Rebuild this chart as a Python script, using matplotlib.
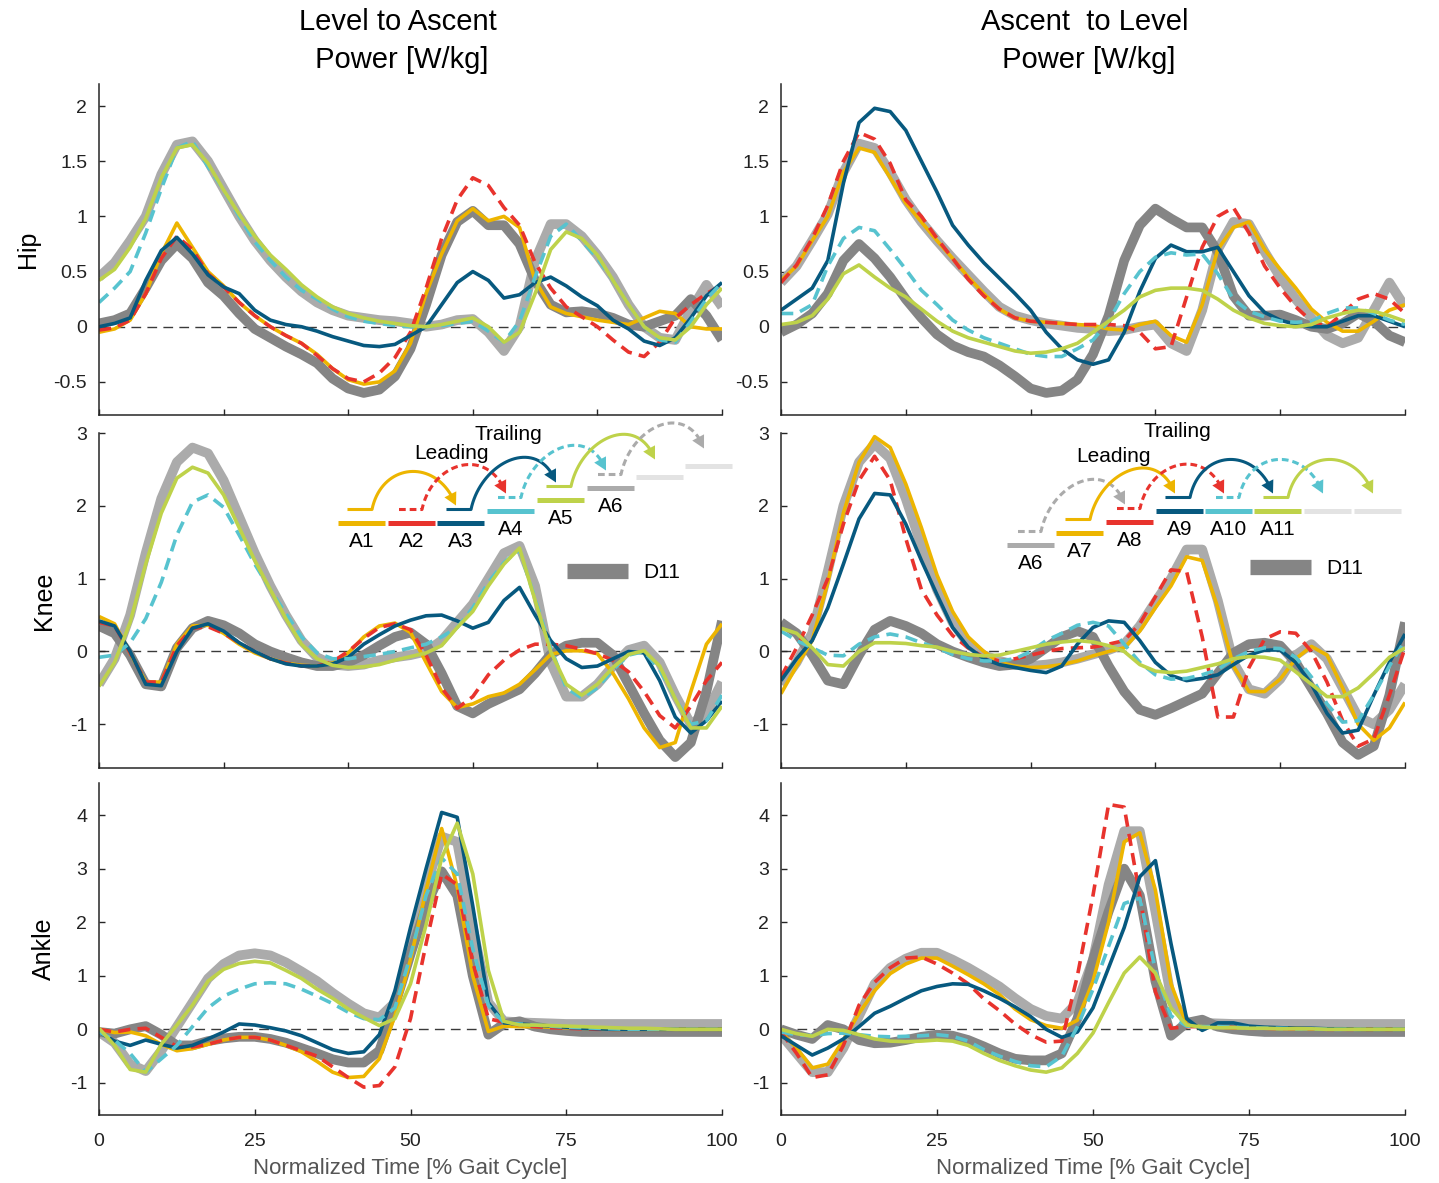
import numpy as np
import matplotlib
matplotlib.use('Agg')
import matplotlib.pyplot as plt
from matplotlib.ticker import FuncFormatter

plt.rcParams['font.family'] = ['Liberation Sans', 'DejaVu Sans']
plt.rcParams['axes.unicode_minus'] = False

# gait cycle grid [%]
pct = np.arange(0, 100.01, 2.5)

# ---------------- Hip, level to ascent ----------------
hip_l2a_A1 = [-0.05, -0.02, 0.06, 0.30, 0.66, 0.94, 0.72, 0.50, 0.37, 0.22, 0.10, 0.00, -0.08, -0.15, -0.25, -0.38, -0.48, -0.52, -0.50, -0.40, -0.15, 0.30, 0.66, 0.96, 1.07, 0.96, 1.00, 0.90, 0.42, 0.18, 0.12, 0.09, 0.06, 0.04, 0.02, 0.08, 0.14, 0.12, 0.00, -0.02, -0.02]
hip_l2a_A2 = [-0.03, -0.01, 0.06, 0.30, 0.62, 0.82, 0.70, 0.48, 0.36, 0.22, 0.10, 0.00, -0.08, -0.15, -0.26, -0.38, -0.47, -0.50, -0.42, -0.28, -0.05, 0.35, 0.80, 1.15, 1.35, 1.28, 1.08, 0.92, 0.58, 0.35, 0.18, 0.09, 0.00, -0.12, -0.23, -0.27, -0.14, 0.08, 0.20, 0.30, 0.38]
hip_l2a_A3 = [0.00, 0.03, 0.08, 0.42, 0.69, 0.81, 0.66, 0.47, 0.36, 0.30, 0.15, 0.06, 0.02, 0.00, -0.04, -0.09, -0.13, -0.17, -0.18, -0.16, -0.08, 0.00, 0.20, 0.40, 0.50, 0.42, 0.26, 0.29, 0.40, 0.45, 0.37, 0.27, 0.19, 0.06, -0.02, -0.13, -0.17, -0.10, 0.08, 0.28, 0.40]
hip_l2a_A4 = [0.22, 0.35, 0.50, 0.85, 1.25, 1.62, 1.68, 1.45, 1.24, 1.00, 0.77, 0.60, 0.45, 0.33, 0.25, 0.16, 0.09, 0.05, 0.03, 0.01, 0.00, 0.00, 0.01, 0.03, 0.05, -0.04, -0.14, 0.05, 0.45, 0.82, 0.93, 0.78, 0.62, 0.42, 0.20, 0.00, -0.12, -0.14, 0.05, 0.25, 0.40]
hip_l2a_A5 = [0.42, 0.52, 0.72, 0.98, 1.35, 1.62, 1.65, 1.48, 1.24, 1.02, 0.82, 0.65, 0.52, 0.38, 0.27, 0.18, 0.12, 0.08, 0.05, 0.03, 0.01, 0.00, 0.02, 0.05, 0.08, 0.00, -0.14, -0.05, 0.30, 0.70, 0.86, 0.80, 0.65, 0.42, 0.20, 0.00, -0.10, -0.12, 0.00, 0.20, 0.35]
hip_l2a_A6 = [0.45, 0.58, 0.78, 1.00, 1.38, 1.65, 1.68, 1.50, 1.25, 1.00, 0.78, 0.60, 0.45, 0.32, 0.22, 0.15, 0.10, 0.08, 0.06, 0.05, 0.03, 0.00, 0.02, 0.06, 0.07, -0.05, -0.22, 0.00, 0.60, 0.93, 0.93, 0.82, 0.65, 0.45, 0.20, 0.00, -0.10, -0.12, 0.15, 0.38, 0.18]
hip_l2a_D11 = [0.03, 0.06, 0.12, 0.35, 0.60, 0.75, 0.62, 0.40, 0.28, 0.12, -0.02, -0.10, -0.18, -0.25, -0.33, -0.47, -0.56, -0.60, -0.57, -0.45, -0.20, 0.20, 0.65, 0.95, 1.05, 0.92, 0.92, 0.75, 0.42, 0.20, 0.13, 0.14, 0.12, 0.08, 0.02, 0.00, 0.05, 0.10, 0.25, 0.10, -0.12]

# ---------------- Hip, ascent to level ----------------
hip_a2l_A6 = [0.40, 0.55, 0.78, 1.02, 1.40, 1.66, 1.62, 1.40, 1.15, 0.95, 0.78, 0.62, 0.47, 0.32, 0.18, 0.10, 0.06, 0.03, 0.01, -0.01, -0.02, -0.04, -0.03, 0.00, 0.02, -0.15, -0.22, 0.15, 0.70, 0.95, 0.93, 0.68, 0.45, 0.25, 0.08, -0.08, -0.15, -0.10, 0.15, 0.40, 0.18]
hip_a2l_A7 = [0.42, 0.55, 0.78, 1.00, 1.40, 1.62, 1.58, 1.35, 1.12, 0.95, 0.78, 0.62, 0.45, 0.30, 0.16, 0.08, 0.05, 0.04, 0.03, 0.02, 0.01, -0.02, -0.03, 0.02, 0.05, -0.08, -0.14, 0.20, 0.70, 0.90, 0.95, 0.70, 0.52, 0.35, 0.16, 0.04, -0.04, -0.04, 0.05, 0.15, 0.20]
hip_a2l_A8 = [0.40, 0.56, 0.80, 1.10, 1.50, 1.76, 1.70, 1.48, 1.15, 1.00, 0.80, 0.62, 0.43, 0.28, 0.16, 0.08, 0.05, 0.04, 0.03, 0.02, 0.02, 0.02, 0.01, -0.05, -0.20, -0.18, 0.27, 0.72, 1.00, 1.08, 0.85, 0.55, 0.35, 0.18, 0.05, 0.00, 0.12, 0.25, 0.30, 0.25, 0.12]
hip_a2l_A9 = [0.15, 0.25, 0.35, 0.60, 1.30, 1.85, 1.98, 1.95, 1.78, 1.50, 1.22, 0.92, 0.74, 0.58, 0.44, 0.30, 0.15, -0.05, -0.20, -0.30, -0.34, -0.30, -0.05, 0.32, 0.62, 0.74, 0.68, 0.68, 0.72, 0.50, 0.28, 0.13, 0.06, 0.02, 0.00, 0.00, 0.05, 0.10, 0.10, 0.05, 0.00]
hip_a2l_A10 = [0.12, 0.12, 0.20, 0.55, 0.80, 0.90, 0.87, 0.70, 0.52, 0.33, 0.20, 0.06, -0.03, -0.10, -0.15, -0.20, -0.25, -0.27, -0.27, -0.20, -0.12, 0.05, 0.30, 0.50, 0.63, 0.67, 0.65, 0.66, 0.48, 0.25, 0.14, 0.09, 0.05, 0.04, 0.05, 0.12, 0.17, 0.17, 0.12, 0.06, 0.02]
hip_a2l_A11 = [0.02, 0.04, 0.10, 0.25, 0.48, 0.56, 0.45, 0.35, 0.27, 0.16, 0.05, -0.04, -0.10, -0.14, -0.18, -0.22, -0.24, -0.23, -0.20, -0.15, -0.05, 0.05, 0.15, 0.27, 0.33, 0.35, 0.35, 0.33, 0.25, 0.15, 0.08, 0.03, 0.01, 0.00, 0.02, 0.08, 0.12, 0.15, 0.14, 0.10, 0.05]
hip_a2l_D11 = [-0.05, 0.02, 0.12, 0.30, 0.60, 0.75, 0.62, 0.45, 0.25, 0.08, -0.07, -0.17, -0.23, -0.27, -0.35, -0.45, -0.56, -0.60, -0.58, -0.48, -0.25, 0.10, 0.60, 0.92, 1.07, 0.98, 0.90, 0.90, 0.68, 0.28, 0.10, 0.10, 0.11, 0.06, 0.00, -0.02, 0.03, 0.12, 0.05, -0.08, -0.14]

# ---------------- Knee, level to ascent ----------------
knee_l2a_A1 = [0.48, 0.38, -0.02, -0.42, -0.42, 0.10, 0.35, 0.36, 0.25, 0.10, -0.02, -0.10, -0.16, -0.19, -0.20, -0.16, -0.02, 0.20, 0.35, 0.39, 0.26, -0.15, -0.55, -0.77, -0.72, -0.62, -0.57, -0.45, -0.25, -0.04, 0.01, 0.01, -0.03, -0.30, -0.65, -1.05, -1.32, -1.25, -0.55, 0.10, 0.38]
knee_l2a_A2 = [0.40, 0.35, -0.02, -0.42, -0.42, 0.08, 0.32, 0.34, 0.25, 0.12, 0.00, -0.10, -0.16, -0.20, -0.20, -0.14, 0.00, 0.18, 0.33, 0.38, 0.30, -0.05, -0.50, -0.78, -0.62, -0.32, -0.12, 0.02, 0.10, 0.10, 0.08, 0.03, -0.03, -0.12, -0.28, -0.55, -0.88, -1.05, -0.75, -0.40, -0.15]
knee_l2a_A3 = [0.42, 0.35, 0.00, -0.45, -0.47, 0.00, 0.32, 0.38, 0.28, 0.12, 0.00, -0.10, -0.17, -0.20, -0.20, -0.17, -0.08, 0.10, 0.23, 0.35, 0.43, 0.49, 0.50, 0.42, 0.32, 0.40, 0.70, 0.88, 0.50, 0.15, -0.10, -0.22, -0.20, -0.10, 0.00, -0.02, -0.40, -0.90, -1.12, -0.95, -0.68]
knee_l2a_A4 = [-0.08, -0.05, 0.12, 0.45, 0.95, 1.60, 2.05, 2.15, 1.98, 1.60, 1.20, 0.85, 0.52, 0.20, -0.02, -0.10, -0.10, -0.07, -0.04, 0.00, 0.05, 0.10, 0.20, 0.33, 0.60, 0.95, 1.22, 1.40, 0.72, 0.05, -0.50, -0.64, -0.50, -0.25, -0.05, 0.00, -0.25, -0.65, -1.00, -0.95, -0.60]
knee_l2a_A5 = [-0.48, -0.15, 0.40, 1.20, 1.90, 2.38, 2.53, 2.45, 2.15, 1.70, 1.25, 0.85, 0.45, 0.10, -0.10, -0.19, -0.22, -0.21, -0.18, -0.12, -0.07, -0.02, 0.08, 0.33, 0.55, 0.90, 1.20, 1.42, 0.70, 0.00, -0.45, -0.60, -0.45, -0.22, -0.04, 0.01, -0.20, -0.65, -1.05, -1.05, -0.75]
knee_l2a_A6 = [-0.45, -0.10, 0.50, 1.35, 2.10, 2.60, 2.80, 2.72, 2.35, 1.85, 1.35, 0.90, 0.50, 0.15, -0.08, -0.18, -0.20, -0.18, -0.12, -0.08, -0.05, 0.00, 0.15, 0.40, 0.65, 1.00, 1.35, 1.45, 0.90, -0.15, -0.62, -0.62, -0.45, -0.20, 0.02, 0.08, -0.15, -0.60, -1.00, -0.85, -0.42]
knee_l2a_D11 = [0.35, 0.25, -0.05, -0.45, -0.48, 0.05, 0.32, 0.42, 0.36, 0.25, 0.10, 0.00, -0.08, -0.15, -0.20, -0.20, -0.15, -0.05, 0.08, 0.20, 0.26, 0.10, -0.30, -0.75, -0.85, -0.72, -0.62, -0.52, -0.30, -0.04, 0.08, 0.12, 0.12, -0.05, -0.45, -0.85, -1.22, -1.45, -1.25, -0.55, 0.42]

# ---------------- Knee, ascent to level ----------------
knee_a2l_A6 = [-0.45, -0.15, 0.25, 1.10, 2.00, 2.60, 2.85, 2.65, 2.10, 1.45, 0.85, 0.40, 0.10, -0.05, -0.13, -0.18, -0.20, -0.18, -0.15, -0.10, -0.04, 0.02, 0.10, 0.35, 0.68, 1.00, 1.40, 1.40, 0.70, -0.15, -0.52, -0.58, -0.38, -0.05, 0.10, -0.10, -0.50, -0.90, -1.00, -0.80, -0.45]
knee_a2l_A7 = [-0.58, -0.20, 0.15, 0.95, 1.90, 2.60, 2.95, 2.80, 2.30, 1.70, 1.05, 0.55, 0.20, 0.00, -0.15, -0.20, -0.22, -0.21, -0.18, -0.13, -0.06, 0.00, 0.05, 0.28, 0.60, 0.90, 1.30, 1.25, 0.60, -0.20, -0.55, -0.55, -0.38, -0.10, 0.07, -0.05, -0.50, -1.00, -1.22, -1.05, -0.70]
knee_a2l_A8 = [-0.35, 0.05, 0.50, 1.00, 1.75, 2.35, 2.68, 2.35, 1.55, 0.85, 0.50, 0.22, 0.05, -0.08, -0.13, -0.10, -0.05, 0.00, 0.04, 0.05, 0.06, 0.10, 0.15, 0.38, 0.75, 1.12, 1.10, 0.20, -0.90, -0.90, -0.22, 0.17, 0.27, 0.25, 0.00, -0.42, -0.95, -1.30, -1.20, -0.60, 0.05]
knee_a2l_A9 = [-0.40, -0.10, 0.15, 0.60, 1.20, 1.82, 2.17, 2.15, 1.75, 1.25, 0.78, 0.33, 0.06, -0.10, -0.18, -0.22, -0.26, -0.29, -0.20, 0.10, 0.33, 0.42, 0.40, 0.15, -0.15, -0.33, -0.40, -0.37, -0.32, -0.18, -0.05, 0.02, 0.02, -0.15, -0.45, -0.85, -1.12, -1.08, -0.60, -0.15, 0.24]
knee_a2l_A10 = [0.28, 0.15, 0.05, -0.05, -0.06, 0.10, 0.20, 0.24, 0.20, 0.12, 0.05, -0.04, -0.10, -0.13, -0.13, -0.10, 0.00, 0.15, 0.25, 0.36, 0.40, 0.35, 0.10, -0.15, -0.32, -0.38, -0.37, -0.32, -0.25, -0.10, 0.00, 0.05, 0.04, -0.08, -0.35, -0.72, -0.97, -0.95, -0.60, -0.20, 0.15]
knee_a2l_A11 = [0.32, 0.25, 0.05, -0.18, -0.20, 0.00, 0.12, 0.12, 0.11, 0.08, 0.06, 0.00, -0.04, -0.06, -0.05, 0.00, 0.05, 0.10, 0.13, 0.15, 0.13, 0.08, 0.00, -0.18, -0.27, -0.29, -0.27, -0.22, -0.17, -0.10, -0.07, -0.08, -0.12, -0.28, -0.45, -0.62, -0.62, -0.50, -0.30, -0.08, 0.05]
knee_a2l_D11 = [0.40, 0.25, -0.05, -0.40, -0.45, -0.05, 0.30, 0.42, 0.35, 0.25, 0.10, 0.00, -0.08, -0.15, -0.20, -0.18, -0.10, 0.05, 0.20, 0.28, 0.20, -0.20, -0.55, -0.80, -0.87, -0.78, -0.68, -0.58, -0.30, -0.02, 0.10, 0.12, 0.08, -0.15, -0.50, -0.85, -1.25, -1.42, -1.30, -0.60, 0.40]

# ---------------- Ankle, level to ascent ----------------
ankle_l2a_A1 = [0.00, -0.06, -0.05, -0.12, -0.28, -0.40, -0.36, -0.28, -0.20, -0.15, -0.15, -0.20, -0.30, -0.42, -0.60, -0.80, -0.90, -0.88, -0.55, 0.25, 1.30, 2.60, 3.75, 2.66, 1.00, -0.04, 0.06, 0.05, 0.05, 0.04, 0.03, 0.02, 0.01, 0.00, 0.00, 0.00, 0.00, 0.00, 0.00, 0.00, 0.00]
ankle_l2a_A2 = [0.00, -0.05, 0.00, 0.02, -0.15, -0.32, -0.33, -0.28, -0.20, -0.15, -0.15, -0.20, -0.30, -0.40, -0.50, -0.70, -0.90, -1.08, -1.05, -0.70, 0.20, 1.60, 2.90, 2.70, 1.25, 0.20, 0.13, 0.08, 0.05, 0.03, 0.02, 0.01, 0.00, 0.00, 0.00, 0.00, 0.00, 0.00, 0.00, 0.00, 0.00]
ankle_l2a_A3 = [-0.05, -0.22, -0.30, -0.20, -0.28, -0.35, -0.30, -0.18, -0.05, 0.10, 0.08, 0.03, -0.03, -0.12, -0.25, -0.38, -0.45, -0.42, -0.10, 0.72, 1.90, 3.00, 4.05, 3.96, 2.30, 0.50, 0.12, 0.10, 0.08, 0.06, 0.04, 0.02, 0.01, 0.00, 0.00, 0.00, 0.00, 0.00, 0.00, 0.00, 0.00]
ankle_l2a_A4 = [-0.05, -0.20, -0.45, -0.80, -0.55, -0.30, 0.05, 0.40, 0.62, 0.75, 0.85, 0.87, 0.85, 0.75, 0.62, 0.48, 0.32, 0.20, 0.18, 0.40, 1.38, 2.50, 3.20, 2.90, 1.50, 0.45, 0.12, 0.10, 0.08, 0.06, 0.04, 0.03, 0.02, 0.01, 0.00, 0.00, 0.00, 0.00, 0.00, 0.00, 0.00]
ankle_l2a_A5 = [0.02, -0.30, -0.75, -0.80, -0.28, 0.08, 0.45, 0.90, 1.12, 1.23, 1.27, 1.24, 1.10, 0.95, 0.75, 0.58, 0.38, 0.22, 0.07, 0.20, 0.85, 1.95, 3.20, 3.85, 2.90, 1.10, 0.15, 0.08, 0.08, 0.07, 0.06, 0.05, 0.04, 0.03, 0.02, 0.02, 0.01, 0.00, 0.00, 0.00, 0.00]
ankle_l2a_A6 = [-0.05, -0.25, -0.65, -0.78, -0.40, 0.05, 0.50, 0.95, 1.22, 1.38, 1.42, 1.38, 1.25, 1.08, 0.90, 0.68, 0.48, 0.30, 0.22, 0.50, 1.45, 2.65, 3.60, 3.50, 1.90, 0.50, 0.15, 0.13, 0.12, 0.11, 0.10, 0.10, 0.10, 0.10, 0.10, 0.10, 0.10, 0.10, 0.10, 0.10, 0.10]
ankle_l2a_D11 = [-0.05, -0.08, 0.00, 0.06, -0.10, -0.30, -0.30, -0.22, -0.17, -0.14, -0.14, -0.18, -0.25, -0.35, -0.45, -0.56, -0.62, -0.62, -0.40, 0.45, 1.40, 2.30, 2.95, 2.50, 1.00, -0.10, 0.10, 0.15, 0.05, 0.00, -0.03, -0.05, -0.05, -0.05, -0.05, -0.05, -0.05, -0.05, -0.05, -0.05, -0.05]

# ---------------- Ankle, ascent to level ----------------
ankle_a2l_A6 = [-0.10, -0.45, -0.80, -0.80, -0.35, 0.25, 0.85, 1.15, 1.32, 1.43, 1.43, 1.30, 1.15, 0.98, 0.80, 0.58, 0.38, 0.25, 0.20, 0.50, 1.30, 2.70, 3.70, 3.70, 2.20, 0.60, 0.12, 0.12, 0.11, 0.10, 0.10, 0.10, 0.10, 0.10, 0.10, 0.10, 0.10, 0.10, 0.10, 0.10, 0.10]
ankle_a2l_A7 = [-0.05, -0.35, -0.72, -0.65, -0.20, 0.30, 0.72, 1.04, 1.22, 1.33, 1.33, 1.18, 1.02, 0.85, 0.65, 0.38, 0.18, 0.07, 0.02, 0.17, 0.90, 2.00, 3.50, 3.67, 2.60, 0.85, 0.08, 0.05, 0.04, 0.03, 0.03, 0.02, 0.02, 0.02, 0.01, 0.01, 0.01, 0.00, 0.00, 0.00, 0.00]
ankle_a2l_A8 = [-0.05, -0.45, -0.90, -0.85, -0.30, 0.45, 0.88, 1.15, 1.33, 1.35, 1.22, 1.05, 0.85, 0.57, 0.35, 0.10, -0.10, -0.24, -0.22, 1.00, 2.50, 4.20, 4.15, 2.50, 0.70, 0.02, 0.05, 0.05, 0.04, 0.03, 0.02, 0.02, 0.01, 0.01, 0.01, 0.00, 0.00, 0.00, 0.00, 0.00, 0.00]
ankle_a2l_A9 = [-0.12, -0.30, -0.48, -0.35, -0.18, 0.05, 0.30, 0.43, 0.58, 0.72, 0.80, 0.85, 0.84, 0.72, 0.58, 0.42, 0.24, 0.00, -0.15, -0.05, 0.40, 1.15, 1.90, 2.85, 3.15, 1.60, 0.20, -0.02, 0.12, 0.12, 0.06, 0.04, 0.03, 0.02, 0.02, 0.01, 0.01, 0.00, 0.00, 0.00, 0.00]
ankle_a2l_A10 = [-0.05, -0.10, -0.12, -0.08, -0.07, -0.10, -0.13, -0.14, -0.13, -0.12, -0.10, -0.13, -0.22, -0.38, -0.50, -0.60, -0.68, -0.70, -0.50, 0.05, 0.75, 1.55, 2.35, 2.45, 1.10, 0.25, 0.06, 0.05, 0.05, 0.04, 0.03, 0.02, 0.02, 0.01, 0.01, 0.00, 0.00, 0.00, 0.00, 0.00, 0.00]
ankle_a2l_A11 = [0.00, -0.08, -0.13, 0.00, -0.02, -0.10, -0.18, -0.22, -0.23, -0.22, -0.20, -0.22, -0.30, -0.45, -0.58, -0.68, -0.76, -0.80, -0.72, -0.45, -0.07, 0.50, 1.05, 1.35, 1.05, 0.40, 0.08, 0.04, 0.03, 0.03, 0.02, 0.02, 0.01, 0.01, 0.01, 0.00, 0.00, 0.00, 0.00, 0.00, 0.00]
ankle_a2l_D11 = [0.00, -0.10, -0.18, 0.08, 0.00, -0.20, -0.26, -0.25, -0.20, -0.14, -0.10, -0.12, -0.20, -0.32, -0.45, -0.55, -0.58, -0.58, -0.45, 0.20, 1.30, 2.20, 3.00, 2.50, 0.90, -0.12, 0.12, 0.18, 0.05, 0.00, -0.03, -0.05, -0.05, -0.05, -0.05, -0.05, -0.05, -0.05, -0.05, -0.05, -0.05]

joints = ['Hip', 'Knee', 'Ankle']
titles = ['Level to Ascent\n Power [W/kg]', 'Ascent  to Level\n Power [W/kg]']
left_labels = ['A1', 'A2', 'A3', 'A4', 'A5', 'A6']
right_labels = ['A6', 'A7', 'A8', 'A9', 'A10', 'A11']

# colours
YEL = '#EDB500'
RED = '#E8332D'
BLU = '#07597F'
CYA = '#57C3CF'
GRN = '#BED24A'
LGR = '#ABABAB'
DGR = '#858585'
VLG = '#E3E3E3'

# (light grey, dark grey, yellow, red, blue, cyan, green) for every panel
panels = [
    [hip_l2a_A6, hip_l2a_D11, hip_l2a_A1, hip_l2a_A2, hip_l2a_A3, hip_l2a_A4, hip_l2a_A5],
    [hip_a2l_A6, hip_a2l_D11, hip_a2l_A7, hip_a2l_A8, hip_a2l_A9, hip_a2l_A10, hip_a2l_A11],
    [knee_l2a_A6, knee_l2a_D11, knee_l2a_A1, knee_l2a_A2, knee_l2a_A3, knee_l2a_A4, knee_l2a_A5],
    [knee_a2l_A6, knee_a2l_D11, knee_a2l_A7, knee_a2l_A8, knee_a2l_A9, knee_a2l_A10, knee_a2l_A11],
    [ankle_l2a_A6, ankle_l2a_D11, ankle_l2a_A1, ankle_l2a_A2, ankle_l2a_A3, ankle_l2a_A4, ankle_l2a_A5],
    [ankle_a2l_A6, ankle_a2l_D11, ankle_a2l_A7, ankle_a2l_A8, ankle_a2l_A9, ankle_a2l_A10, ankle_a2l_A11],
]
DASH = (0, (3.4, 2.0))
styles = [
    dict(color=LGR, lw=7.0),
    dict(color=DGR, lw=7.0),
    dict(color=YEL, lw=2.6),
    dict(color=RED, lw=2.6, ls=DASH),
    dict(color=BLU, lw=2.6),
    dict(color=CYA, lw=2.6, ls=DASH),
    dict(color=GRN, lw=2.6),
]

ylims = [(-0.8, 2.2), (-1.6, 3.0), (-1.6, 4.6)]
yticks = [[-0.5, 0, 0.5, 1, 1.5, 2], [-1, 0, 1, 2, 3], [-1, 0, 1, 2, 3, 4]]

W, H = 1439, 1183
fig = plt.figure(figsize=(W / 100, H / 100), dpi=100)

cols = [(99, 623), (781, 624)]
rows = [(84, 415), (433, 768), (783, 1115)]
fmt = FuncFormatter(lambda v, _: '%g' % v)

for r, (top, bot) in enumerate(rows):
    for c, (x0, w) in enumerate(cols):
        ax = fig.add_axes([x0 / W, 1 - bot / H, w / W, (bot - top) / H])
        ax.axhline(0, color='#3a3a3a', lw=1.0, ls=(0, (7, 4.5)), zorder=1)
        for vals, st in zip(panels[r * 2 + c], styles):
            ax.plot(pct, vals, zorder=2, solid_joinstyle='round',
                    dash_joinstyle='round', solid_capstyle='butt', **st)
        ax.set_xlim(0, 100)
        ax.set_ylim(*ylims[r])
        ax.set_yticks(yticks[r])
        ax.yaxis.set_major_formatter(fmt)
        for s in ['top', 'right']:
            ax.spines[s].set_visible(False)
        for s in ['left', 'bottom']:
            ax.spines[s].set_linewidth(1.1)
            ax.spines[s].set_color('#262626')
        ax.tick_params(direction='in', length=4.5, width=1.0, color='#262626',
                       labelsize=14, labelcolor='#222222')
        ax.tick_params(axis='y', pad=8.5)
        ax.tick_params(axis='x', pad=13)
        if r < 2:
            ax.set_xticks([0, 20, 40, 60, 80, 100])
            ax.set_xticklabels([])
        else:
            ax.set_xticks([0, 25, 50, 75, 100])
            ax.set_xlabel('Normalized Time [% Gait Cycle]', fontsize=16,
                          color='#555555', labelpad=6)
        if c == 0:
            ax.set_ylabel(joints[r], fontsize=18, labelpad=10)

for c, xc in enumerate([398, 1085]):
    fig.text(xc / W, 1 - 41 / H, titles[c], ha='center', va='center',
             fontsize=21, linespacing=1.5)

# legend sketches, drawn in pixel coordinates on a transparent overlay
ov = fig.add_axes([0, 0, 1, 1])
ov.set_xlim(0, W)
ov.set_ylim(H, 0)
ov.axis('off')


def step_arrow(xs, ys, xe, ye, color, dashed):
    ls = (0, (2.2, 1.3)) if dashed else '-'
    t = np.linspace(0, 1, 40)
    c1x, c1y = xs + 10, ys - 48
    c2x, c2y = xe - 18, ye - 48
    bx = (1 - t)**3 * xs + 3 * (1 - t)**2 * t * c1x + 3 * (1 - t) * t**2 * c2x + t**3 * xe
    by = (1 - t)**3 * ys + 3 * (1 - t)**2 * t * c1y + 3 * (1 - t) * t**2 * c2y + t**3 * ye
    ov.plot(np.r_[xs - 23, bx[:-3]], np.r_[ys, by[:-3]], color=color, lw=2.2, ls=ls)
    ov.annotate('', xy=(xe, ye), xytext=(bx[-5], by[-5]),
                arrowprops=dict(arrowstyle='-|>,head_length=0.45,head_width=0.24',
                                color=color, lw=0, shrinkA=0, shrinkB=0,
                                mutation_scale=20))


def stair_legend(bx, byy, colors, dashed, labels, lead, trail, d11):
    for i in range(8):
        ov.plot([bx[i], bx[i] + 47], [byy[i], byy[i]], color=colors[i], lw=3.6,
                solid_capstyle='butt')
    for i in range(6):
        ov.text(bx[i] + 24, byy[i] + 18, labels[i], ha='center', va='center', fontsize=15)
        fx = bx[i] + 34
        fy = byy[i] - 13.5
        ex = bx[i + 2] + 19
        ey = byy[i + 2] - 13.5 - 4
        step_arrow(fx, fy, ex, ey, colors[i], dashed[i])
    ov.text(lead[0], lead[1], 'Leading', ha='center', va='center', fontsize=15)
    ov.text(trail[0], trail[1], 'Trailing', ha='center', va='center', fontsize=15)
    ov.plot([d11[0], d11[0] + 61], [d11[1], d11[1]], color=DGR, lw=11,
            solid_capstyle='butt')
    ov.text(d11[0] + 76, d11[1] + 1, 'D11', ha='left', va='center', fontsize=15)


stair_legend([338, 388, 437, 487, 537, 587, 636, 685],
             [523, 523, 523, 511, 500, 488, 477, 466],
             [YEL, RED, BLU, CYA, GRN, LGR, VLG, VLG],
             [False, True, False, True, False, True],
             left_labels, (452, 453), (508, 434), (567, 571))
stair_legend([1007, 1056, 1106, 1156, 1205, 1254, 1304, 1354],
             [545, 533, 522, 511, 511, 511, 511, 511],
             [LGR, YEL, RED, BLU, CYA, GRN, VLG, VLG],
             [True, False, True, False, True, False],
             right_labels, (1113, 456), (1177, 431), (1250, 567))

fig.savefig('out.png', dpi=100)
